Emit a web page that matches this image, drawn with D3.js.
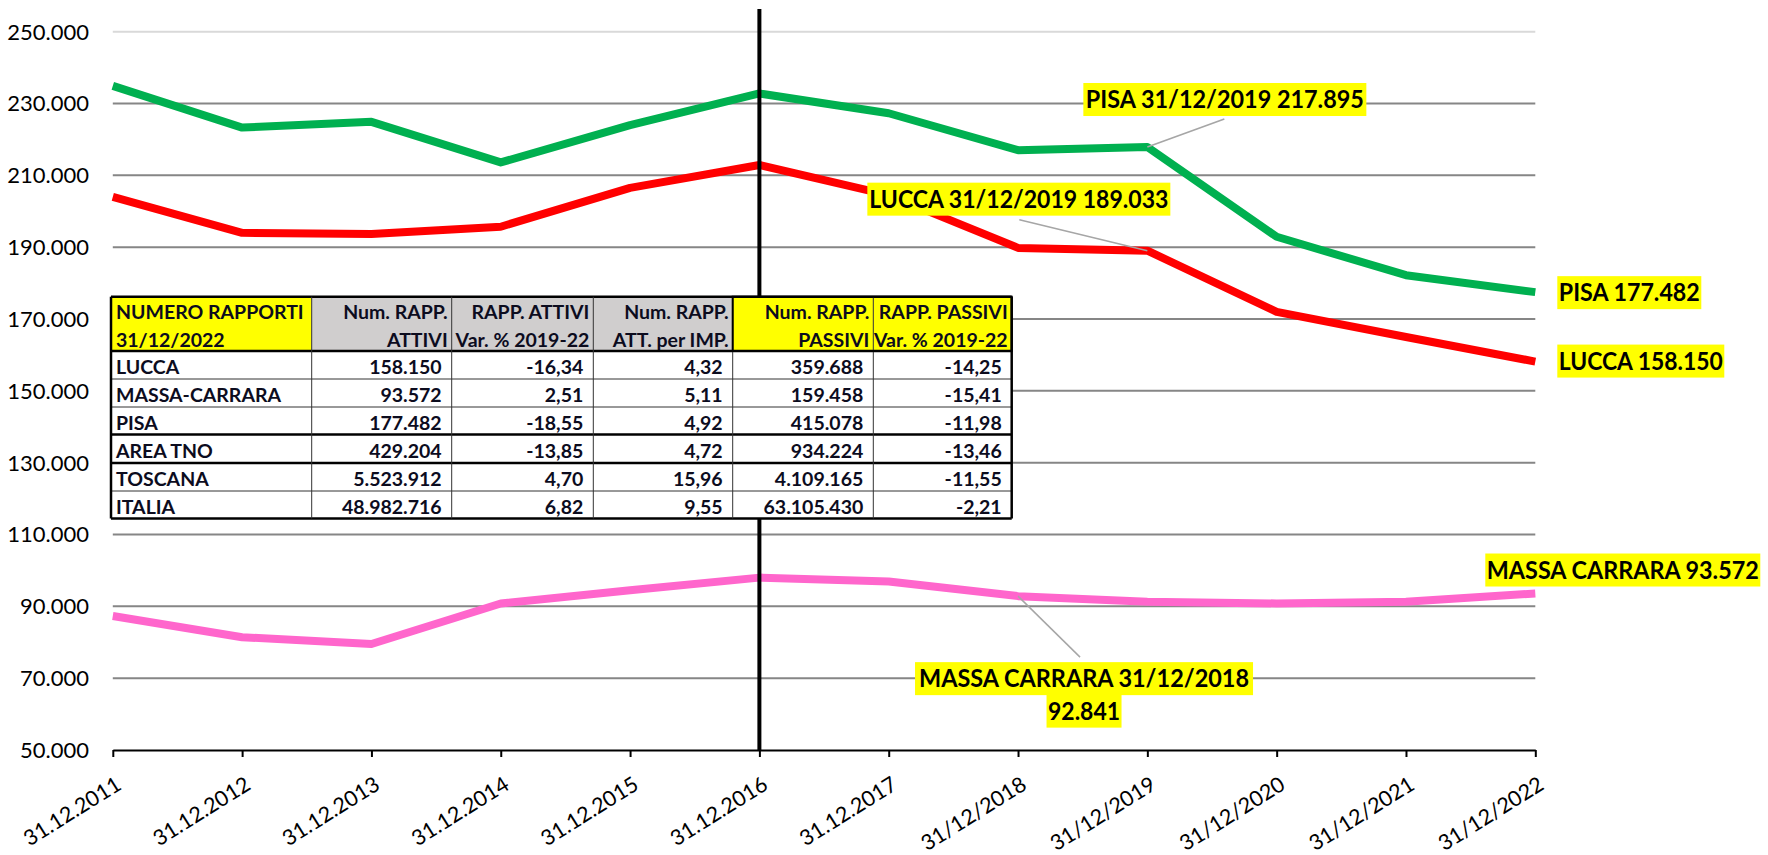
<!DOCTYPE html>
<html>
<head>
<meta charset="utf-8">
<script src="https://cdn.jsdelivr.net/npm/d3@7/dist/d3.min.js"></script>
<style>
  body { margin: 0; background: #fff; }
  svg { display: block; }
</style>
</head>
<body>
<div id="chart"></div>
<script>
var dates = ["31.12.2011", "31.12.2012", "31.12.2013", "31.12.2014", "31.12.2015", "31.12.2016",
             "31.12.2017", "31/12/2018", "31/12/2019", "31/12/2020", "31/12/2021", "31/12/2022"];
var pisa  = [234900, 223300, 224900, 213600, 224000, 232800, 227300, 217000, 217895, 192900, 182200, 177482];
var lucca = [204000, 194000, 193700, 195700, 206500, 212900, 204500, 189800, 189033, 172000, 165000, 158150];
var massa = [87300, 81400, 79500, 90800, 94500, 98000, 96900, 92841, 91300, 90800, 91300, 93572];
var yTicks = [50000, 70000, 90000, 110000, 130000, 150000, 170000, 190000, 210000, 230000, 250000];
var markerDate = "31.12.2016";

// tabella riassuntiva
var tableHead = [["NUMERO RAPPORTI", "31/12/2022"], ["Num. RAPP.", "ATTIVI"], ["RAPP. ATTIVI", "Var. % 2019-22"],
                 ["Num. RAPP.", "ATT. per IMP."], ["Num. RAPP.", "PASSIVI"], ["RAPP. PASSIVI", "Var. % 2019-22"]];
var tableNames   = ["LUCCA", "MASSA-CARRARA", "PISA", "AREA TNO", "TOSCANA", "ITALIA"];
var tableAttivi  = ["158.150", "93.572", "177.482", "429.204", "5.523.912", "48.982.716"];
var tableVarAtt  = ["-16,34", "2,51", "-18,55", "-13,85", "4,70", "6,82"];
var tablePerImp  = ["4,32", "5,11", "4,92", "4,72", "15,96", "9,55"];
var tablePassivi = ["359.688", "159.458", "415.078", "934.224", "4.109.165", "63.105.430"];
var tableVarPas  = ["-14,25", "-15,41", "-11,98", "-13,46", "-11,55", "-2,21"];

var W = 1768, H = 855;
var font = "Lato, 'Liberation Sans', Arial, sans-serif";

var svg = d3.select("#chart").append("svg")
    .attr("width", W)
    .attr("height", H);

var x = d3.scalePoint().domain(dates).range([112.8, 1535.3]);
var y = d3.scaleLinear().domain([50000, 250000]).range([750, 31.7]);

// griglia
svg.append("g").selectAll("line")
    .data(yTicks.filter(function(d) { return d > 50000; }))
    .enter().append("line")
    .attr("x1", x.range()[0]).attr("x2", x.range()[1])
    .attr("y1", function(d) { return y(d); })
    .attr("y2", function(d) { return y(d); })
    .attr("stroke", function(d) { return d === 250000 ? "#d9d9d9" : "#868686"; })
    .attr("stroke-width", 2);

svg.append("g").selectAll("text")
    .data(yTicks)
    .enter().append("text")
    .attr("x", 89)
    .attr("y", function(d) { return y(d); })
    .attr("dy", "0.36em")
    .attr("text-anchor", "end")
    .attr("font-family", font)
    .attr("font-size", "22px")
    .attr("fill", "#000")
    .text(function(d) { return d3.format(",")(d).replace(/,/g, "."); });

// asse x
var xAxis = svg.append("g")
    .attr("transform", "translate(0," + y(50000) + ")")
    .call(d3.axisBottom(x).tickSize(7).tickSizeOuter(0).tickFormat(""));
xAxis.select(".domain").attr("stroke", "#000").attr("stroke-width", 2);
xAxis.selectAll(".tick line").attr("stroke", "#000").attr("stroke-width", 2);

svg.append("g").selectAll("text")
    .data(dates)
    .enter().append("text")
    .attr("transform", function(d) { return "translate(" + (x(d) + 6) + ",782) rotate(-32)"; })
    .attr("dy", "0.35em")
    .attr("text-anchor", "end")
    .attr("font-family", font)
    .attr("font-size", "21.5px")
    .attr("fill", "#000")
    .text(function(d) { return d; });

// serie
var line = d3.line()
    .x(function(d, i) { return x(dates[i]); })
    .y(function(d) { return y(d); });

var series = [
    { values: pisa, color: "#00b050" },
    { values: lucca, color: "#ff0000" },
    { values: massa, color: "#ff66cc" }
];

svg.append("g").selectAll("path")
    .data(series)
    .enter().append("path")
    .attr("d", function(d) { return line(d.values); })
    .attr("fill", "none")
    .attr("stroke", function(d) { return d.color; })
    .attr("stroke-width", 8)
    .attr("stroke-linejoin", "round");

// linea verticale 2016
svg.append("line")
    .attr("x1", x(markerDate)).attr("x2", x(markerDate))
    .attr("y1", 9).attr("y2", y(50000))
    .attr("stroke", "#000")
    .attr("stroke-width", 4);

// tabella
var colX = [111, 311.7, 451.7, 593.3, 732.7, 873.3, 1011.7];
var rowY = [296.7, 351, 379, 407, 434.5, 463, 491, 518.5];
var headFill = ["#ffff00", "#d0cece", "#d0cece", "#d0cece", "#ffff00", "#ffff00"];
var tableCols = [tableNames, tableAttivi, tableVarAtt, tablePerImp, tablePassivi, tableVarPas];
var tcolor = "#0c0c1e";

var tbl = svg.append("g").attr("font-family", font).attr("font-weight", "bold").attr("fill", tcolor);

tbl.append("rect")
    .attr("x", colX[0]).attr("y", rowY[0])
    .attr("width", colX[6] - colX[0]).attr("height", rowY[7] - rowY[0])
    .attr("fill", "#fff");

tbl.selectAll("rect.head")
    .data(tableHead)
    .enter().append("rect")
    .attr("class", "head")
    .attr("x", function(d, i) { return colX[i]; })
    .attr("y", rowY[0])
    .attr("width", function(d, i) { return colX[i + 1] - colX[i]; })
    .attr("height", rowY[1] - rowY[0])
    .attr("fill", function(d, i) { return headFill[i]; });

tableHead.forEach(function(h, i) {
    h.forEach(function(t, k) {
        tbl.append("text")
            .attr("x", i === 0 ? colX[0] + 5 : colX[i + 1] - 4)
            .attr("y", rowY[0] + 22 + k * 28)
            .attr("text-anchor", i === 0 ? "start" : "end")
            .attr("font-size", "19.5px")
            .text(t);
    });
});

tableCols.forEach(function(col, i) {
    tbl.selectAll("text.c" + i)
        .data(col)
        .enter().append("text")
        .attr("class", "c" + i)
        .attr("x", i === 0 ? colX[0] + 5 : colX[i + 1] - 10)
        .attr("y", function(d, r) { return rowY[r + 2] - 5; })
        .attr("text-anchor", i === 0 ? "start" : "end")
        .attr("font-size", "19.5px")
        .text(function(d) { return d; });
});

// bordi
var thick = [0, 1, 4, 5, 7];
rowY.forEach(function(ry, r) {
    tbl.append("line")
        .attr("x1", colX[0]).attr("x2", colX[6])
        .attr("y1", ry).attr("y2", ry)
        .attr("stroke", thick.indexOf(r) >= 0 ? "#000" : "#333")
        .attr("stroke-width", thick.indexOf(r) >= 0 ? 2.5 : 1);
});
colX.forEach(function(cx, c) {
    var outer = c === 0 || c === 6;
    tbl.append("line")
        .attr("x1", cx).attr("x2", cx)
        .attr("y1", rowY[0]).attr("y2", rowY[7])
        .attr("stroke", outer ? "#000" : "#333")
        .attr("stroke-width", outer ? 2.5 : 1);
});
tbl.append("rect")
    .attr("x", colX[4]).attr("y", rowY[0])
    .attr("width", colX[6] - colX[4]).attr("height", rowY[1] - rowY[0])
    .attr("fill", "none").attr("stroke", "#000").attr("stroke-width", 2);

// etichette
var labels = [
    { text: ["PISA 31/12/2019 217.895"], i: 8, v: pisa[8], dx: -64, dy: -64, w: 283, tw: 278, lead: [77, -28] },
    { text: ["LUCCA 31/12/2019 189.033"], i: 8, v: lucca[8], dx: -280, dy: -68, w: 303, tw: 299, lead: [-128, -31] },
    { text: ["PISA 177.482"], i: 11, v: pisa[11], dx: 22, dy: -16, w: 144, tw: 141 },
    { text: ["LUCCA 158.150"], i: 11, v: lucca[11], dx: 22, dy: -17, w: 167, tw: 164 },
    { text: ["MASSA CARRARA 93.572"], i: 11, v: massa[11], dx: -50, dy: -40, w: 275, tw: 272 },
    { text: ["MASSA CARRARA 31/12/2018", "92.841"], i: 7, v: massa[7], dx: -103, dy: 66, w: 338, tw: 330, lead: [62, 61] }
];

var ann = svg.append("g").attr("font-family", font).attr("font-weight", "bold");

labels.forEach(function(l) {
    var px = x(dates[l.i]), py = y(l.v);
    var bx = px + l.dx, by = py + l.dy;
    if (l.lead) {
        ann.append("line")
            .attr("x1", px).attr("y1", py)
            .attr("x2", px + l.lead[0]).attr("y2", py + l.lead[1])
            .attr("stroke", "#a6a6a6").attr("stroke-width", 1.5);
    }
    l.text.forEach(function(t, k) {
        var w = k === 0 ? l.w : 75, tw = k === 0 ? l.tw : 72;
        var cx = bx + l.w / 2;
        ann.append("rect")
            .attr("x", cx - w / 2).attr("y", by + k * 32.5)
            .attr("width", w).attr("height", 33)
            .attr("fill", "#ffff00");
        ann.append("text")
            .attr("x", cx).attr("y", by + k * 32.5 + 25)
            .attr("text-anchor", "middle")
            .attr("font-size", "24px")
            .attr("fill", "#000")
            .attr("textLength", tw)
            .attr("lengthAdjust", "spacingAndGlyphs")
            .text(t);
    });
});
</script>
</body>
</html>
